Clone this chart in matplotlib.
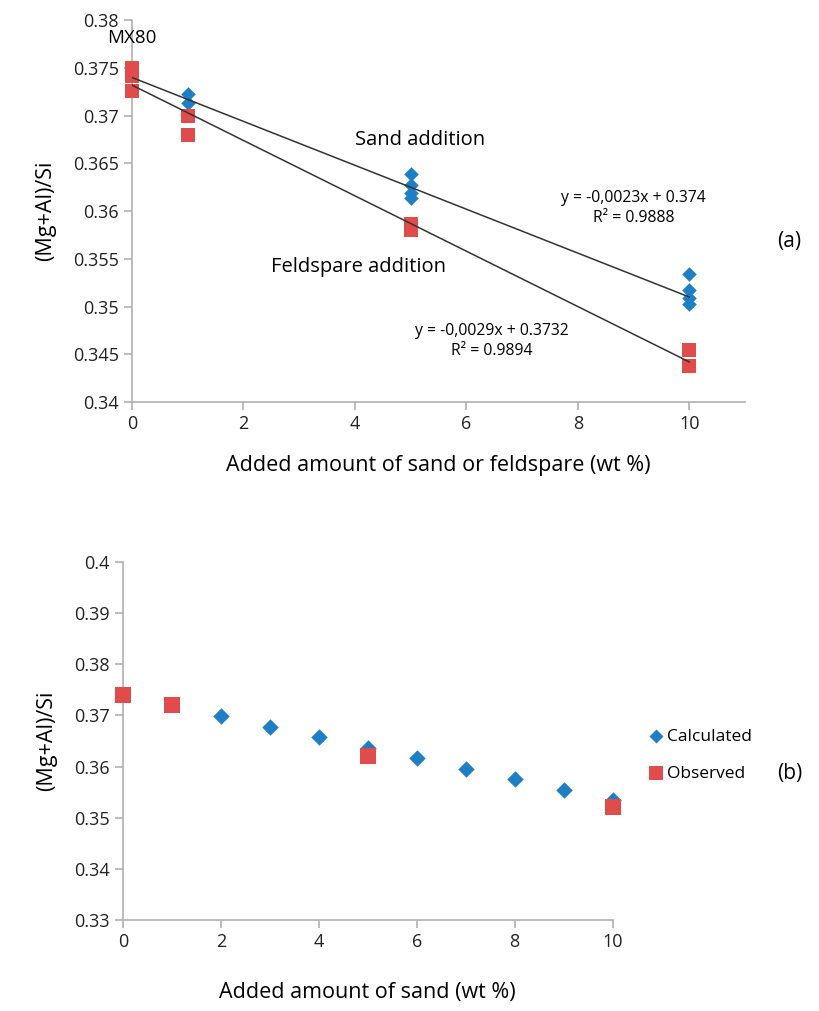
import numpy as np
import matplotlib.pyplot as plt

plt.rcParams['font.family'] = ['Open Sans', 'DejaVu Sans']

# (a) sand / feldspare addition
sand_x = [1, 1, 5, 5, 5, 5, 10, 10, 10, 10]
sand_y = [0.3723, 0.3713, 0.3639, 0.3627, 0.3619, 0.3614, 0.3534, 0.3517, 0.3509, 0.3503]
feld_x = [0, 0, 0, 1, 1, 5, 5, 10, 10]
feld_y = [0.3750, 0.3742, 0.3726, 0.3700, 0.3680, 0.3587, 0.3580, 0.3454, 0.3438]
fit_sand = (-0.0023, 0.374)
fit_feld = (-0.0029, 0.3732)
yticks_a = [0.34, 0.345, 0.35, 0.355, 0.36, 0.365, 0.37, 0.375, 0.38]
ylabels_a = ['0.34', '0.345', '0.35', '0.355', '0.36', '0.365', '0.37', '0.375', '0.38']

# (b) calculated vs observed
calc_x = [2, 3, 4, 5, 6, 7, 8, 9, 10]
calc_y = [0.3698, 0.3678, 0.3657, 0.3637, 0.3616, 0.3596, 0.3575, 0.3555, 0.3535]
obs_x = [0, 1, 5, 10]
obs_y = [0.3740, 0.3720, 0.3620, 0.3520]
yticks_b = [0.33, 0.34, 0.35, 0.36, 0.37, 0.38, 0.39, 0.40]
ylabels_b = ['0.33', '0.34', '0.35', '0.36', '0.37', '0.38', '0.39', '0.4']

blue = '#1f7fc6'
red = '#e04b4b'
grey = '#b0b0b0'

fig = plt.figure(figsize=(8.2, 10.11), dpi=100)
fig.patch.set_facecolor('white')


def style(ax):
    for s in ['top', 'right']:
        ax.spines[s].set_visible(False)
    for s in ['left', 'bottom']:
        ax.spines[s].set_color(grey)
        ax.spines[s].set_linewidth(1.2)
    ax.tick_params(axis='both', colors=grey, labelcolor='#222222', labelsize=13,
                   length=6, width=1.2, direction='out')


ax1 = fig.add_axes([0.161, 0.6024, 0.7475, 0.3776])
style(ax1)
xx = np.array([0, 10])
ax1.plot(xx, fit_sand[0] * xx + fit_sand[1], color='#333333', lw=1.1, zorder=4)
ax1.plot(xx, fit_feld[0] * xx + fit_feld[1], color='#333333', lw=1.1, zorder=4)
ax1.scatter(sand_x, sand_y, marker='D', s=55, color=blue, zorder=3, linewidths=0,
            clip_on=False)
ax1.scatter(feld_x, feld_y, marker='s', s=100, color=red, zorder=3, linewidths=0,
            clip_on=False)
ax1.set_xlim(0, 11)
ax1.set_ylim(0.34, 0.38)
ax1.set_xticks([0, 2, 4, 6, 8, 10])
ax1.set_yticks(yticks_a)
ax1.set_yticklabels(ylabels_a)
ax1.set_xlabel('Added amount of sand or feldspare (wt %)', fontsize=15.5, labelpad=16)
ax1.set_ylabel('(Mg+Al)/Si', fontsize=15.5, labelpad=12)
ax1.text(-0.45, 0.3781, 'MX80', fontsize=13.5, ha='left', va='center')
ax1.text(4.0, 0.3675, 'Sand addition', fontsize=14.5, ha='left', va='center')
ax1.text(2.5, 0.3541, 'Feldspare addition', fontsize=14.5, ha='left', va='center')
ax1.text(9.0, 0.3603, 'y = -0,0023x + 0.374\nR² = 0.9888', fontsize=11.3,
         ha='center', va='center', linespacing=1.35)
ax1.text(6.45, 0.3464, 'y = -0,0029x + 0.3732\nR² = 0.9894', fontsize=11.3,
         ha='center', va='center', linespacing=1.35)
fig.text(0.963, 0.761, '(a)', fontsize=15, ha='center', va='center')

ax2 = fig.add_axes([0.15, 0.09, 0.597, 0.3541])
style(ax2)
ax2.scatter(calc_x, calc_y, marker='D', s=70, color=blue, zorder=3, linewidths=0,
            label='Calculated', clip_on=False)
ax2.scatter(obs_x, obs_y, marker='s', s=130, color=red, zorder=4, linewidths=0,
            label='Observed', clip_on=False)
ax2.set_xlim(0, 10)
ax2.set_ylim(0.33, 0.40)
ax2.set_xticks([0, 2, 4, 6, 8, 10])
ax2.set_yticks(yticks_b)
ax2.set_yticklabels(ylabels_b)
ax2.set_xlabel('Added amount of sand (wt %)', fontsize=15.5, labelpad=22)
ax2.set_ylabel('(Mg+Al)/Si', fontsize=15.5, labelpad=12)
ax2.legend(loc='center left', bbox_to_anchor=(1.04, 0.461), frameon=False, fontsize=12.5,
           handletextpad=0.1, handlelength=1.0, labelspacing=1.2, markerscale=0.85)
fig.text(0.963, 0.235, '(b)', fontsize=15, ha='center', va='center')

fig.savefig('out.png', dpi=100, facecolor='white')
